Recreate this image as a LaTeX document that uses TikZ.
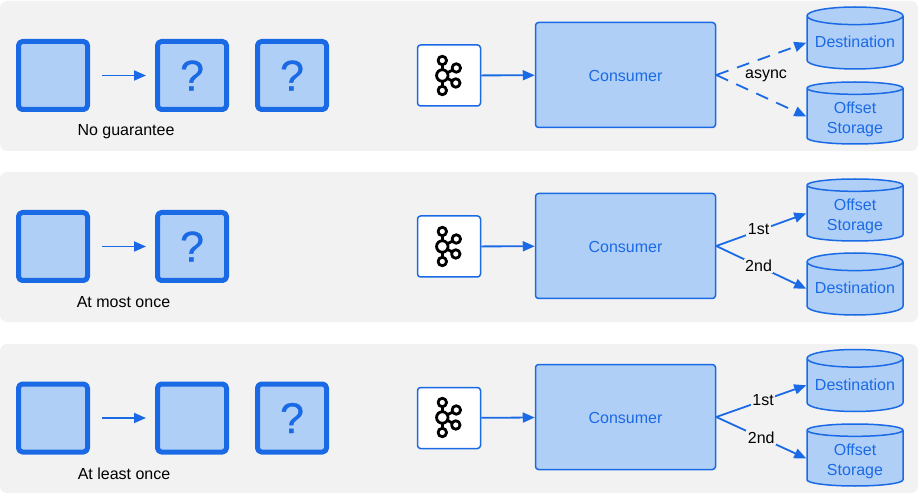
\documentclass[tikz,border=0pt]{standalone}
\usepackage{fontspec}
\setmainfont{Liberation Sans}
\newfontface\markfont[FakeBold=.8]{Liberation Sans}
\usetikzlibrary{arrows.meta,shapes.geometric}
\definecolor{linkblue}{HTML}{1A6AE6}
\definecolor{paleblue}{HTML}{B0CFF7}
\definecolor{panelgray}{HTML}{F2F2F2}
\newcommand{\offsetlabel}{\rule{0pt}{17pt}Offset\\Storage}
\newcommand{\destlabel}{\rule[-2pt]{0pt}{2pt}Destination}
\tikzset{
  panel/.style={fill=panelgray,draw=none,rounded corners=7pt},
  msgbox/.style={draw=linkblue,fill=paleblue,line width=5pt,rounded corners=4pt,minimum width=69pt,minimum height=68pt,inner sep=0pt,text=linkblue,font=\markfont\fontsize{43}{46}\selectfont},
  kafkabox/.style={draw=linkblue,fill=white,line width=1.5pt,rounded corners=3pt,minimum width=63pt,minimum height=61pt,inner sep=0pt},
  consumerbox/.style={draw=linkblue,fill=paleblue,line width=1.5pt,rounded corners=3pt,minimum width=180pt,minimum height=105pt,inner sep=0pt,text=linkblue,text height=13pt,text depth=0pt,font=\fontsize{16}{18}\selectfont},
  store/.style={cylinder,shape border rotate=90,aspect=.22,anchor=shape center,draw=linkblue,fill=paleblue,line width=1.5pt,minimum width=96pt,minimum height=62pt,inner sep=0pt,text=linkblue,align=center,font=\fontsize{16}{20}\selectfont},
  caption/.style={font=\fontsize{16}{18}\selectfont,text=black},
  flow/.style={draw=linkblue,line width=1.8pt,->},
  gap/.style={shorten <=12pt,shorten >=9pt},
  broken/.style={dash pattern=on 13pt off 9pt},
  steplabel/.style={font=\fontsize{16}{18}\selectfont,text=black,fill=panelgray,inner sep=1.5pt},
  knot/.style={circle,draw=black,line width=2.8pt,inner sep=0pt,fill=white},
  kafkaicon/.pic={
    \draw[black,line width=2.8pt] (0,-15) -- (0,15);
    \draw[black,line width=2.8pt] (0,0) -- (14,-7.5);
    \draw[black,line width=2.8pt] (0,0) -- (13.5,7.5);
    \node[knot,minimum size=8.5pt] (-top) at (0,-15) {};
    \node[knot,minimum size=11.5pt] (-mid) at (0,0) {};
    \node[knot,minimum size=8.5pt] (-bot) at (0,15) {};
    \node[knot,minimum size=8.5pt] (-up) at (14,-7.5) {};
    \node[knot,minimum size=8.5pt] (-low) at (13.5,7.5) {};
  }
}
\begin{document}
\begin{tikzpicture}[line cap=butt,line join=round,>={Triangle[length=12pt,width=10pt]},x=1pt,y=-1pt]
\useasboundingbox (0,0) rectangle (918,494);
\fill[panel] (0,1) rectangle (918,151);
\fill[panel] (0,172) rectangle (918,322);
\fill[panel] (0,344) rectangle (918,493);

% no guarantee
\node[msgbox] (nga) at (53,75.5) {};
\node[msgbox] (ngb) at (192,75.5) {?};
\node[msgbox] (ngc) at (292,75.5) {?};
\node[caption] (ngtext) at (126,132) {No guarantee};
\draw[flow,gap] (nga) -- (ngb);
\node[kafkabox] (ngk) at (449,75.5) {};
\pic (ngicon) at (442.3,75.5) {kafkaicon};
\node[consumerbox] (ngcons) at (625.5,75) {Consumer};
\node[store] (ngdest) at (855,38) {\destlabel};
\node[store] (ngoff) at (855,113) {\offsetlabel};
\draw[flow] (ngk) -- (ngcons);
\draw[flow,broken] (ngcons.east) -- (ngdest.west);
\draw[flow,broken] (ngcons.east) -- (ngoff.west);
\node[caption] (ngasync) at (766,76) {async};

% at most once
\node[msgbox] (ama) at (53,246.5) {};
\node[msgbox] (amb) at (192,246.5) {?};
\node[caption] (amtext) at (123.5,302.5) {At most once};
\draw[flow,gap] (ama) -- (amb);
\node[kafkabox] (amk) at (449,246.5) {};
\pic (amicon) at (442.3,246.5) {kafkaicon};
\node[consumerbox] (amcons) at (625.5,246) {Consumer};
\node[store] (amoff) at (855,210) {\offsetlabel};
\node[store] (amdest) at (855,284) {\destlabel};
\draw[flow] (amk) -- (amcons);
\draw[flow] (amcons.east) -- node[steplabel,pos=.47,yshift=1.5pt] (amfirst) {1st} (amoff.west);
\draw[flow] (amcons.east) -- node[steplabel,pos=.47] (amsecond) {2nd} (amdest.west);

% at least once
\node[msgbox] (ala) at (53,418) {};
\node[msgbox] (alb) at (192,418) {};
\node[msgbox] (alc) at (292,418) {?};
\node[caption] (altext) at (124,473.5) {At least once};
\draw[flow,gap] (ala) -- (alb);
\node[kafkabox] (alk) at (449,418) {};
\pic (alicon) at (442.3,417.5) {kafkaicon};
\node[consumerbox] (alcons) at (625.5,417) {Consumer};
\node[store] (aldest) at (855,380.5) {\destlabel};
\node[store] (aloff) at (855,455) {\offsetlabel};
\draw[flow] (alk) -- (alcons);
\draw[flow] (alcons.east) -- node[steplabel,pos=.52] (alfirst) {1st} (aldest.west);
\draw[flow] (alcons.east) -- node[steplabel,pos=.5] (alsecond) {2nd} (aloff.west);
\end{tikzpicture}
\end{document}
